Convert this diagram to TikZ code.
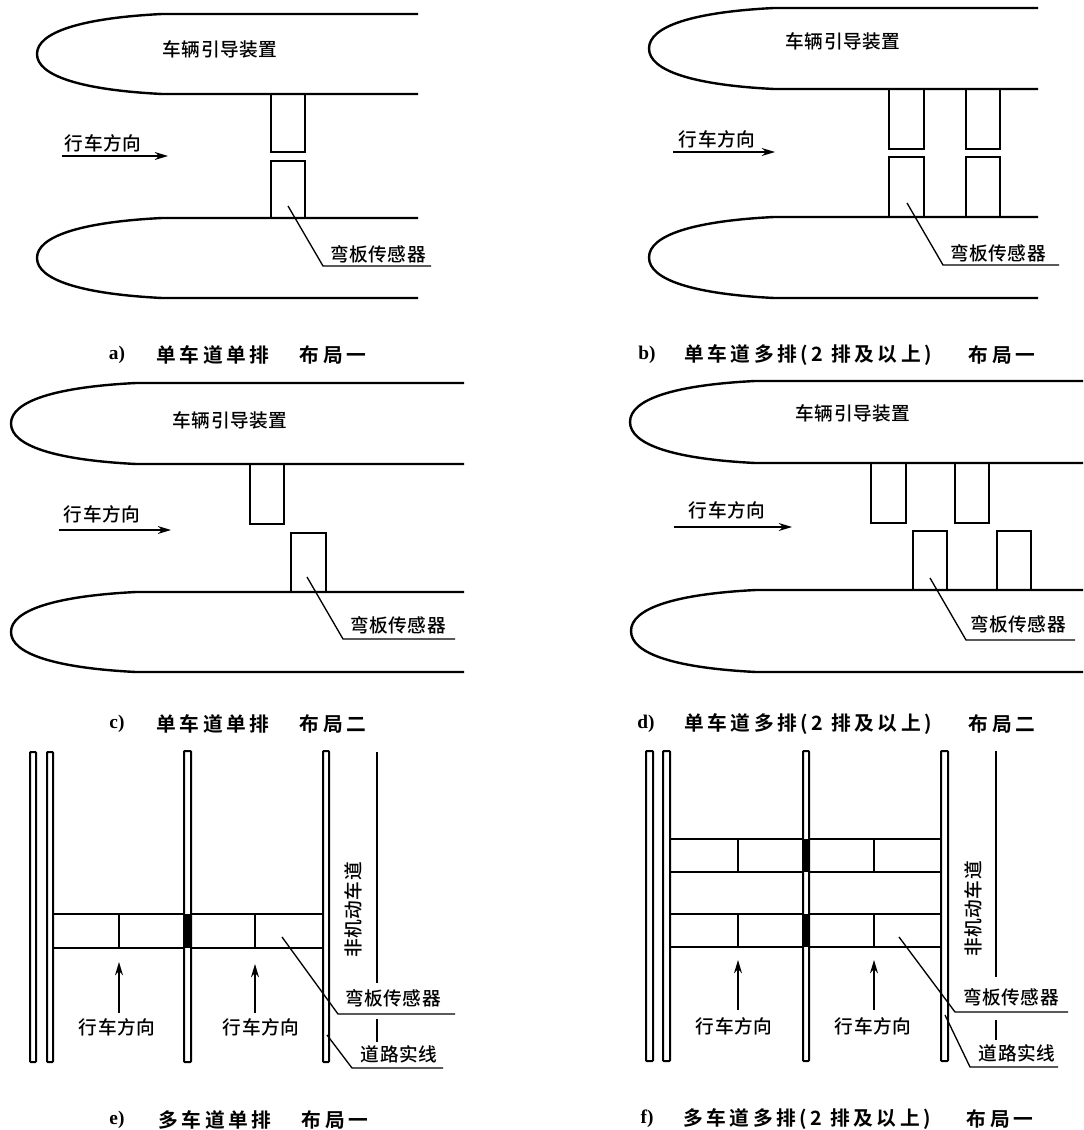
\documentclass[tikz,border=0pt]{standalone}
\usepackage{fontspec}
\usetikzlibrary{arrows.meta}
\newfontfamily\labelcjk[LetterSpace=3]{Noto Sans CJK SC Medium}
\newfontfamily\capcjk[LetterSpace=18]{Noto Sans CJK SC Bold}
\newfontfamily\capser{Liberation Serif Bold}
\tikzset{
  main/.style={line width=1.8pt,black},
  pole/.style={line width=1.5pt,black,fill=white,rounded corners=0.6pt},
  thin lead/.style={line width=1pt,black},
  dir arrow/.style={line width=0.9pt,black,-{Stealth[length=10pt,width=6pt]}},
  lab/.style={font=\labelcjk\fontsize{14pt}{16pt}\selectfont,inner sep=0pt,black},
  captxt/.style={font=\capcjk\fontsize{14.8pt}{16pt}\selectfont,inner sep=0pt,black},
  capl/.style={font=\capser\fontsize{14.5pt}{16pt}\selectfont,inner sep=0pt,black},
}
\newcommand{\island}[4]{% nose x, top y, bottom y, right x
  \draw[main] (#4,#2) -- ({#1+125},#2)
    .. controls ({#1+45},{#2+4}) and (#1,{#2+18}) .. (#1,{(#2+#3)/2})
    .. controls (#1,{#3-18}) and ({#1+45},{#3-4}) .. ({#1+125},#3) -- (#4,#3);}
\newcommand{\sensor}[4]{\draw[main] (#1,#3) rectangle (#2,#4);}
\newcommand{\polebar}[4]{\draw[pole] (#1,#3) rectangle (#2,#4);}
\begin{document}
\begin{tikzpicture}[x=0.75pt,y=-0.75pt]
\useasboundingbox (0,0) rectangle (1083,1130);
\fill[white] (0,0) rectangle (1083,1130);
% panel a
\island{37}{14}{94}{418}
\island{37}{218}{298}{418}
\sensor{271}{305}{94}{152}
\sensor{271}{305}{161}{218}
\node[lab] (a1) at (220,49) {车辆引导装置};
\node[lab] (a2) at (103,143) {行车方向};
\coordinate (a3s) at (62,156); \coordinate (a3e) at (168,156);
\draw[dir arrow] (a3s) -- (a3e);
\node[lab] (a4) at (378,254) {弯板传感器};
\coordinate (a5) at (288,206);
\draw[thin lead] (a5) -- (323,266) -- (431,266);
\node[capl] (a6) at (117,355) {a)};
\node[captxt] (a7) at (213,355) {单车道单排};
\node[captxt] (a8) at (333,355) {布局一};
% panel b
\island{649}{8}{89}{1038}
\island{649}{217}{298}{1038}
\sensor{889}{924}{89}{149}
\sensor{966}{1000}{89}{149}
\sensor{889}{924}{157}{217}
\sensor{966}{1000}{157}{217}
\node[lab] (b1) at (843,41) {车辆引导装置};
\node[lab] (b2) at (717,139) {行车方向};
\coordinate (b3s) at (673,152); \coordinate (b3e) at (775,152);
\draw[dir arrow] (b3s) -- (b3e);
\node[lab] (b4) at (998,253) {弯板传感器};
\coordinate (b5) at (907,203);
\draw[thin lead] (b5) -- (943,265) -- (1059,265);
\node[capl] (b6) at (647,355) {b)};
\node[captxt,anchor=west] (b7) at (684,355) {单车道多排(2 排及以上)};
\node[captxt] (b8) at (1002,355) {布局一};
% panel c
\island{11}{383}{464}{464}
\island{11}{592}{672}{464}
\sensor{250}{284}{464}{524}
\sensor{291}{326}{533}{592}
\node[lab] (c1) at (230,420) {车辆引导装置};
\node[lab] (c2) at (102,514) {行车方向};
\coordinate (c3s) at (59,530); \coordinate (c3e) at (171,530);
\draw[dir arrow] (c3s) -- (c3e);
\node[lab] (c4) at (398,625) {弯板传感器};
\coordinate (c5) at (307,577);
\draw[thin lead] (c5) -- (343,639) -- (455,639);
\node[capl] (c6) at (117,724) {c)};
\node[captxt] (c7) at (213,724) {单车道单排};
\node[captxt] (c8) at (333,724) {布局二};
% panel d
\island{630}{381}{463}{1083}
\island{631}{590}{672}{1083}
\sensor{871}{906}{463}{523}
\sensor{955}{989}{463}{523}
\sensor{913}{947}{531}{590}
\sensor{997}{1031}{531}{590}
\node[lab] (d1) at (853,413) {车辆引导装置};
\node[lab] (d2) at (727,510) {行车方向};
\coordinate (d3s) at (674,527); \coordinate (d3e) at (792,527);
\draw[dir arrow] (d3s) -- (d3e);
\node[lab] (d4) at (1018,624) {弯板传感器};
\coordinate (d5) at (930,578);
\draw[thin lead] (d5) -- (966,640) -- (1075,640);
\node[capl] (d6) at (646,724) {d)};
\node[captxt,anchor=west] (d7) at (684,724) {单车道多排(2 排及以上)};
\node[captxt] (d8) at (1002,724) {布局二};
% panel e
\draw[main] (53,914) -- (323,914);
\draw[main] (53,948) -- (323,948);
\draw[main] (119,914) -- (119,948);
\draw[main] (255,914) -- (255,948);
\polebar{30}{36}{752}{1062}
\polebar{47}{53}{752}{1062}
\polebar{184}{191}{751}{1062}
\polebar{323}{329}{751}{1062}
\fill[black] (184,914) rectangle (191,948);
\coordinate (e1a) at (119,1013); \coordinate (e1b) at (119,962);
\draw[dir arrow] (e1a) -- (e1b);
\coordinate (e2a) at (255,1013); \coordinate (e2b) at (255,964);
\draw[dir arrow] (e2a) -- (e2b);
\node[lab] (e3) at (117,1027) {行车方向};
\node[lab] (e4) at (261,1027) {行车方向};
\draw[main] (377,752) -- (377,983);
\draw[main] (377,1019) -- (377,1042);
\node[lab,rotate=90] (e5) at (353,910) {非机动车道};
\node[lab] (e6) at (393,998) {弯板传感器};
\node[lab] (e7) at (399,1054) {道路实线};
\coordinate (e8) at (282,937);
\draw[thin lead] (e8) -- (338,1014) -- (455,1014);
\coordinate (e9) at (327,1035);
\draw[thin lead] (e9) -- (352,1068) -- (443,1068);
\node[capl] (e10) at (117,1120) {e)};
\node[captxt] (e11) at (215,1120) {多车道单排};
\node[captxt] (e12) at (335,1120) {布局一};
% panel f
\foreach \yy in {839,872,914,947} {\draw[main] (670,\yy) -- (941,\yy);}
\foreach \xx in {738,874} {
  \draw[main] (\xx,839) -- (\xx,872);
  \draw[main] (\xx,914) -- (\xx,947);
}
\polebar{646}{653}{751}{1061}
\polebar{663}{670}{751}{1061}
\polebar{803}{809}{751}{1061}
\polebar{941}{948}{751}{1061}
\fill[black] (803,839) rectangle (809,872);
\fill[black] (803,914) rectangle (809,947);
\coordinate (f1a) at (738,1010); \coordinate (f1b) at (738,960);
\draw[dir arrow] (f1a) -- (f1b);
\coordinate (f2a) at (874,1010); \coordinate (f2b) at (874,960);
\draw[dir arrow] (f2a) -- (f2b);
\node[lab] (f3) at (734,1026) {行车方向};
\node[lab] (f4) at (873,1026) {行车方向};
\draw[main] (996,751) -- (996,977);
\draw[main] (996,1020) -- (996,1040);
\node[lab,rotate=90] (f5) at (973,909) {非机动车道};
\node[lab] (f6) at (1011,997) {弯板传感器};
\node[lab] (f7) at (1017,1053) {道路实线};
\coordinate (f8) at (899,937);
\draw[thin lead] (f8) -- (955,1012) -- (1068,1012);
\coordinate (f9) at (945,1015);
\draw[thin lead] (f9) -- (970,1067) -- (1058,1067);
\node[capl] (f10) at (647,1119) {f)};
\node[captxt,anchor=west] (f11) at (683,1119) {多车道多排(2 排及以上)};
\node[captxt] (f12) at (1000,1119) {布局一};
\end{tikzpicture}
\end{document}
